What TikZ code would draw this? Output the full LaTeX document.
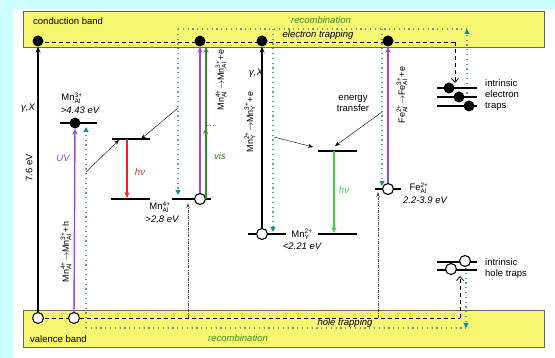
\documentclass[tikz,border=0pt]{standalone}
\usepackage{fontspec}
\setmainfont{Liberation Sans}
\usetikzlibrary{arrows.meta,positioning}
\definecolor{bgc}{HTML}{CCFFFF}
\definecolor{bandc}{HTML}{F7F771}
\definecolor{violc}{HTML}{9B45E6}
\definecolor{visc}{HTML}{2F8F2F}
\definecolor{redc}{HTML}{E02828}
\definecolor{lgrc}{HTML}{3CD23C}
\definecolor{tealc}{HTML}{168C8C}
\definecolor{dotc}{HTML}{5E9C9C}
\newcommand{\spc}[3]{#1$^{\mbox{\fontsize{6.5}{7}\selectfont #2}}_{\mbox{\fontsize{6.5}{7}\selectfont #3}}$}
\tikzset{
  band/.style={draw=gray!80!black,fill=bandc,line width=0.8pt},
  lab/.style={font=\fontsize{9.5}{11}\selectfont,inner sep=1pt},
  ilab/.style={font=\fontsize{9.5}{11}\selectfont\itshape,inner sep=1pt},
  rlab/.style={font=\fontsize{9}{10}\selectfont,rotate=90,inner sep=1pt},
  ed/.style={circle,fill=black,minimum size=11pt,inner sep=0pt},
  hd/.style={circle,draw=black,line width=1.1pt,fill=white,minimum size=11pt,inner sep=0pt},
  lvl/.style={line width=1.5pt},
  ar/.style={-{Stealth[length=6pt,width=5pt]},line width=1.4pt},
  et/.style={-{Stealth[length=5pt,width=4pt]},thin},
  rec/.style={dotc,line width=1.2pt,dash pattern=on 1.2pt off 3.6pt},
  rect/.style={rec,-{Triangle[length=5pt,width=5pt,color=tealc]}},
  trp/.style={line width=0.8pt,dash pattern=on 4pt off 3pt},
  trpa/.style={trp,-{Straight Barb[length=4pt,width=7pt]}},
  hcap/.style={gray!60!black,line width=0.8pt,dash pattern=on 3pt off 1.2pt on 0.8pt off 1.2pt,-{Stealth[length=5pt,width=3.5pt]}}
}
\begin{document}
\begin{tikzpicture}[x=1pt,y=-1pt]
\useasboundingbox (0,0) rectangle (555,358);
\fill[bgc] (0,0) rectangle (555,358);
\fill[white] (13,9) rectangle (555,358);
% bands
\draw[band] (23,11) rectangle (544,47);
\draw[band] (23,310) rectangle (544,347);
\node[lab,anchor=west] (cbl) at (32,21) {conduction band};
\node[lab,anchor=west] (vbl) at (29,339) {valence band};
\node[ilab,text=visc] (rtop) at (321,20) {recombination};
\node[ilab] (etr) at (318,35) {electron trapping};
\node[ilab,text=visc] (rbot) at (238,338) {recombination};
\node[ilab] (htr) at (345,323) {hole trapping};
% recombination paths
\coordinate (ra) at (178,29);
\coordinate (rb) at (273,29);
\coordinate (rc) at (382,29);
\coordinate (rd) at (467,29);
\coordinate (rl) at (86,328);
\coordinate (rr) at (466,328);
\draw[rec] (ra) -- (rd) (rl) -- (rr);
\draw[rect] (ra) -- (178,195);
\draw[rect] (rb) -- (273,232);
\draw[rect] (rc) -- (382,186);
\draw[rect] (467,108) -- (rd);
\draw[rect] (rl) -- (86,127);
\draw[rect] (466,268) -- (rr);
% trapping
\coordinate (ta) at (455,42);
\coordinate (tb) at (460,318);
\draw[trp] (38,42) -- (ta);
\draw[trpa] (ta) -- (455,83);
\draw[trp] (38,318) -- (tb);
\draw[trpa] (tb) -- (460,276);
\draw[hcap] (188,318) -- (188,203);
\draw[hcap] (378,318) -- (378,192);
% levels
\draw[lvl] (60,123) -- (97,123);
\draw[lvl] (112,139) -- (150,139) (111,199) -- (150,199);
\draw[lvl] (172,199) -- (211,199);
\draw[lvl] (248,234) -- (286,234) (318,234) -- (357,234) (318,151) -- (357,151);
\draw[lvl] (375,189) -- (401,189);
\foreach \y in {88,97,106} \draw[lvl] (437,\y) -- (477,\y);
\foreach \y in {262,270} \draw[lvl] (437,\y) -- (477,\y);
\draw[gray,dotted,thick] (207,125) -- (218,125);
% carriers
\node[ed] (cbA) at (38,41) {};
\node[ed] (cbB) at (200,41) {};
\node[ed] (cbC) at (262,41) {};
\node[ed] (cbD) at (388,41) {};
\node[hd] (vbA) at (38,318) {};
\node[hd] (vbB) at (74,318) {};
\node[ed] (mnIII) at (75,123) {};
\node[hd] (mnIV) at (200,199) {};
\node[hd] (mnII) at (262,234) {};
\node[hd] (feII) at (388,189) {};
\node[ed] (etA) at (449,88) {};
\node[ed] (etB) at (459,97) {};
\node[ed] (etC) at (469,106) {};
\node[hd] (htA) at (465,261) {};
\node[hd] (htB) at (451,269) {};
% transitions
\draw[ar] (vbA) -- (cbA);
\draw[ar,violc] (vbB) -- (mnIII);
\draw[ar,violc] (mnIV) -- (cbB);
\draw[ar,visc] (mnIV.east) -- (mnIV.east |- cbB.south);
\draw[ar,visc] (mnIV.east) -- (205.5,128);
\draw[ar] (mnII) -- (cbC);
\draw[ar,violc] (feII) -- (cbD);
\draw[ar,redc] (127,139) -- (127,198);
\draw[ar,lgrc] (334,151) -- (334,233);
% energy transfer
\draw[et] (86,172) -- (119,140);
\draw[et] (178,108) -- (141,139);
\draw[et] (274,137) -- (313,147);
\draw[et] (382,112) -- (335,146);
% labels
\node[ilab] (gxA) at (28,108) {γ,X};
\node[lab,rotate=90] (gap) at (29,168) {7.6 eV};
\node[ilab,text=violc] (uv) at (63,158) {UV};
\node[rlab] (tA) at (66,252) {\spc{Mn}{4+}{Al}$\rightarrow$\spc{Mn}{3+}{Al}+h};
\node[lab,inner sep=0pt] (mnIIIl) at (72,98) {\spc{Mn}{3+}{Al}};
\node[ilab,inner sep=0pt,below=3pt of mnIIIl,xshift=8pt] (eA) {>4.43 eV};
\node[ilab,text=redc] (hvA) at (140,172) {hν};
\node[lab,inner sep=0pt] (mnIVl) at (160,207) {\spc{Mn}{4+}{Al}};
\node[ilab,inner sep=0pt,below=3pt of mnIVl,xshift=2pt] (eB) {>2,8 eV};
\node[ilab,text=visc] (vis) at (220,156) {vis};
\node[rlab] (tB) at (221,80) {\spc{Mn}{4+}{Al}$\rightarrow$\spc{Mn}{3+}{Al}+e};
\node[ilab] (gxB) at (256,73) {γ,X};
\node[rlab] (tC) at (250,122) {\spc{Mn}{2+}{Y}$\rightarrow$\spc{Mn}{3+}{Y}+e};
\node[lab,inner sep=0pt] (mnIIl) at (302,234) {\spc{Mn}{2+}{Y}};
\node[ilab,inner sep=0pt,below=3pt of mnIIl] (eC) {<2.21 eV};
\node[ilab,text=lgrc] (hvB) at (344,190) {hν};
\node[lab,align=center] (etrf) at (353,103) {energy\\transfer};
\node[rlab] (tD) at (402,95) {\spc{Fe}{2+}{Al}$\rightarrow$\spc{Fe}{3+}{Al}+e};
\node[lab,inner sep=0pt] (feIIl) at (419,188) {\spc{Fe}{2+}{Al}};
\node[ilab,inner sep=0pt,below=3pt of feIIl,xshift=6pt] (eD) {2.2-3.9 eV};
\node[lab,align=left,anchor=west] (etl) at (484,95) {intrinsic\\electron\\traps};
\node[lab,align=left,anchor=west] (htl) at (484,269) {intrinsic\\hole traps};
\end{tikzpicture}
\end{document}
